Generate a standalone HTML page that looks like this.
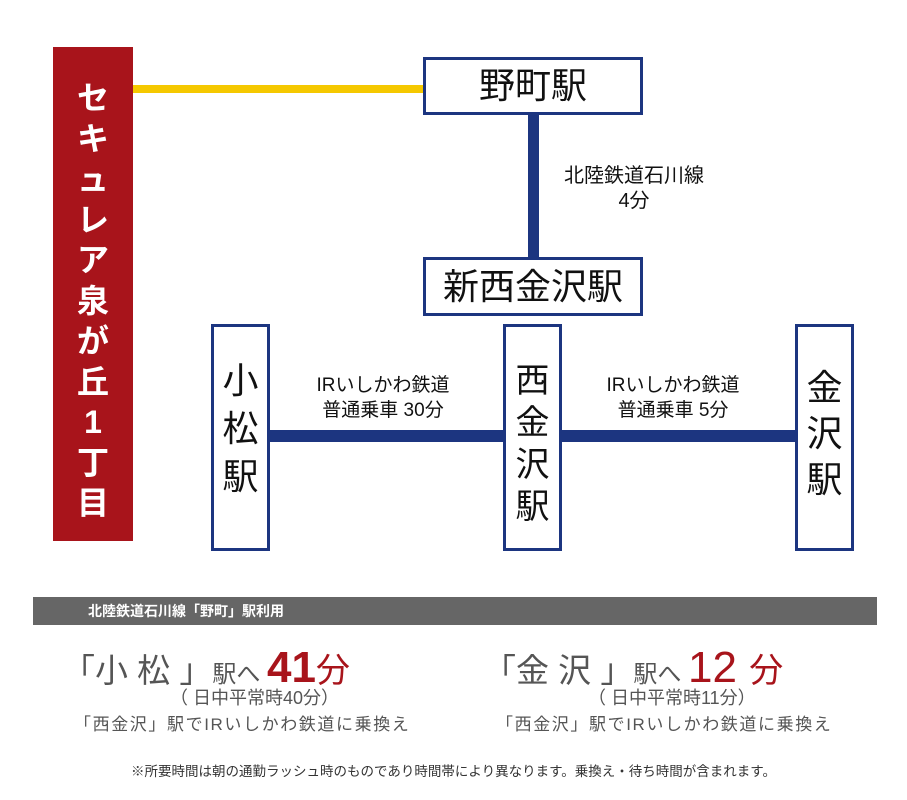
<!DOCTYPE html>
<html><head><meta charset="utf-8"><style>
body{margin:0;width:907px;height:800px;background:#fff;position:relative;overflow:hidden;font-family:"Liberation Sans","Noto Sans CJK JP",sans-serif;}
.a{position:absolute;}
.box{position:absolute;border:3px solid #1c3580;background:#fff;box-sizing:border-box;color:#111;text-align:center;}
.v{font-size:36px;}
.lbl{position:absolute;text-align:center;font-size:19px;line-height:25px;color:#111;}
.g{color:#555;}
</style></head><body>
<div class="a" style="left:53px;top:47px;width:80px;height:494px;background:#a8141b;"></div>
<div class="a" style="left:53px;top:78px;width:80px;color:#fff;font-weight:bold;font-size:32px;line-height:40.5px;text-align:center;">セ<br>キ<br>ュ<br>レ<br>ア<br>泉<br>が<br>丘<br>1<br>丁<br>目</div>
<div class="a" style="left:133px;top:85px;width:292px;height:8px;background:#f5c800;"></div>
<div class="a" style="left:528px;top:112px;width:11px;height:148px;background:#1c3580;"></div>
<div class="a" style="left:268px;top:430px;width:530px;height:12px;background:#1c3580;"></div>
<div class="box" style="left:423px;top:57px;width:220px;height:58px;font-size:36px;line-height:52px;">野町駅</div>
<div class="box" style="left:423px;top:257px;width:220px;height:59px;font-size:36px;line-height:53px;">新西金沢駅</div>
<div class="lbl" style="left:534px;top:164px;width:200px;font-size:20px;">北陸鉄道石川線<br>4分</div>
<div class="box v" style="left:211px;top:324px;width:59px;height:227px;padding-top:30px;line-height:48px;">小<br>松<br>駅</div>
<div class="box v" style="left:503px;top:324px;width:59px;height:227px;padding-top:33px;line-height:42px;font-size:34px;">西<br>金<br>沢<br>駅</div>
<div class="box v" style="left:795px;top:324px;width:59px;height:227px;padding-top:38px;line-height:46px;">金<br>沢<br>駅</div>
<div class="lbl" style="left:283px;top:373px;width:200px;">IRいしかわ鉄道<br>普通乗車 30分</div>
<div class="lbl" style="left:573px;top:373px;width:200px;">IRいしかわ鉄道<br>普通乗車 5分</div>
<div class="a" style="left:33px;top:597px;width:844px;height:28px;background:#666;"></div>
<div class="a" style="left:88px;top:601px;color:#fff;font-weight:bold;font-size:14px;line-height:20px;">北陸鉄道石川線「野町」駅利用</div>
<div class="a g" style="left:62px;top:646px;font-size:33px;line-height:44px;white-space:nowrap;">「小 松 」<span style="font-size:24px">駅へ </span><span style="color:#a8141b;font-size:44px;font-weight:bold;">41</span><span style="color:#a8141b;font-size:34px;">分</span></div>
<div class="a g" style="left:170px;top:686px;font-size:18px;line-height:24px;white-space:nowrap;">（ 日中平常時40分）</div>
<div class="a g" style="left:74px;top:714px;font-size:17px;line-height:22px;white-space:nowrap;letter-spacing:1.6px;">「西金沢」駅でIRいしかわ鉄道に乗換え</div>
<div class="a g" style="left:483px;top:646px;font-size:33px;line-height:44px;white-space:nowrap;">「金 沢 」<span style="font-size:24px">駅へ </span><span style="color:#a8141b;font-size:44px;">12 </span><span style="color:#a8141b;font-size:34px;">分</span></div>
<div class="a g" style="left:588px;top:686px;font-size:18px;line-height:24px;white-space:nowrap;">（ 日中平常時11分）</div>
<div class="a g" style="left:496px;top:714px;font-size:17px;line-height:22px;white-space:nowrap;letter-spacing:1.6px;">「西金沢」駅でIRいしかわ鉄道に乗換え</div>
<div class="a" style="left:0;top:763px;width:907px;text-align:center;font-size:13.5px;line-height:18px;color:#333;">※所要時間は朝の通勤ラッシュ時のものであり時間帯により異なります。乗換え・待ち時間が含まれます。</div>
</body></html>
